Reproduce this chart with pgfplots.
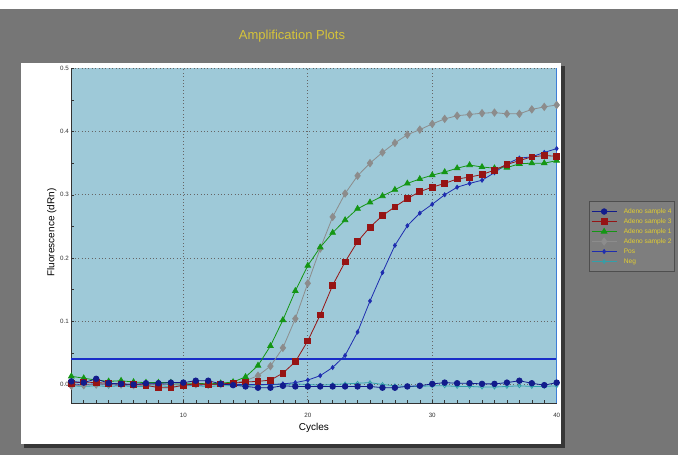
\documentclass[border=0pt]{standalone}
\usepackage{pgfplots}
\pgfplotsset{compat=1.18}
\usepackage{fontspec}
\setmainfont{Liberation Sans}
\definecolor{bggray}{RGB}{118,118,118}
\definecolor{shadowgray}{RGB}{55,55,55}
\definecolor{plotbg}{RGB}{158,201,216}
\definecolor{titleyellow}{RGB}{214,196,58}
\definecolor{legyellow}{RGB}{226,206,48}
\definecolor{leggray}{RGB}{126,126,126}
\definecolor{legborder}{RGB}{78,78,78}
\definecolor{cnavy}{RGB}{18,28,140}
\definecolor{cred}{RGB}{150,20,20}
\definecolor{cgreen}{RGB}{20,150,20}
\definecolor{cgray}{RGB}{140,140,140}
\definecolor{cpos}{RGB}{30,45,175}
\definecolor{cneg}{RGB}{50,160,170}
\definecolor{thrblue}{RGB}{25,45,200}
\definecolor{curblue}{RGB}{60,125,215}
\begin{document}
\begin{tikzpicture}[x=1pt,y=1pt]
\fill[white] (0,0) rectangle (678,455);
\fill[bggray] (0,0) rectangle (678,445.5);
\fill[shadowgray] (24,7) rectangle (564.5,389);
\fill[white] (21,11) rectangle (561,392);
\node[text=titleyellow, font=\fontsize{13}{15}\selectfont] at (292,419) {Amplification Plots};
\begin{axis}[
  at={(71.3pt,51.5pt)}, anchor=south west,
  scale only axis, width=485.4pt, height=335.2pt,
  xmin=1, xmax=40, ymin=-0.03, ymax=0.5,
  clip=false,
  axis background/.style={fill=plotbg},
  axis x line*=bottom, axis y line*=left,
  axis line style={black!80, line width=0.6pt, -},
  tick align=inside,
  xtick={10,20,30,40}, minor xtick={1,...,40},
  ytick={0,0.1,0.2,0.3,0.4,0.5}, minor ytick={0.05,0.15,0.25,0.35,0.45},
  scaled y ticks=false,
  yticklabel style={/pgf/number format/fixed, /pgf/number format/fixed zerofill, /pgf/number format/precision=1, anchor=east, inner sep=0pt, xshift=-2.3pt},
  xticklabel style={anchor=center, inner sep=0pt, yshift=-11.5pt},
  /pgf/number format/assume math mode=true,
  ticklabel style={font=\fontsize{6.2}{7}\selectfont, text=black!80},
  major tick length=3pt, minor tick length=3pt,
  tick style={black!80, line width=0.5pt},
  grid=major,
  major grid style={black!60, line width=0.6pt, dash pattern=on 0.8pt off 2.6pt},
  label style={font=\fontsize{6.8}{8}\selectfont, text=black!85},
  xlabel={Cycles}, ylabel={Fluorescence (dRn)},
  every axis x label/.style={at={(rel axis cs:0.5,-0.072)}, anchor=center},
  every axis y label/.style={at={(rel axis cs:-0.040,0.51)}, rotate=90, anchor=center},
  legend style={at={(rel axis cs:1.066,0.604)}, anchor=north west, fill=leggray, draw=legborder, line width=1pt, text=legyellow, font=\fontsize{6.6}{8}\selectfont, inner xsep=2pt, inner ysep=6pt, row sep=2pt, nodes={inner sep=0.8pt, text height=5pt, text depth=1.4pt}, cells={anchor=west}, /tikz/every odd column/.append style={column sep=6pt}},
  legend image code/.code={\draw[mark repeat=2,mark phase=2,#1] plot coordinates {(0pt,0pt) (12.5pt,0pt) (25pt,0pt)};},
  reverse legend,
]
\addplot[forget plot, draw=thrblue, line width=2pt] coordinates {(1,0.041) (40,0.041)};
% Neg
\addplot[color=cneg, line width=0.8pt, mark=diamond, mark size=2pt, mark options={solid, line width=0.7pt}] table {
1 -0.002
2 -0.003
3 -0.002
4 -0.003
5 -0.002
6 -0.003
7 -0.003
8 -0.002
9 -0.003
10 -0.002
11 -0.002
12 -0.003
13 -0.002
14 -0.002
15 -0.001
16 -0.001
17 0.000
18 0.000
19 0.001
20 0.000
21 -0.001
22 0.000
23 0.001
24 0.002
25 0.003
26 0.000
27 -0.002
28 -0.003
29 -0.003
30 -0.002
31 -0.002
32 -0.003
33 -0.003
34 -0.004
35 -0.004
36 -0.003
37 -0.002
38 -0.003
39 -0.003
40 -0.002
};
\addlegendentry{Neg}
% Pos
\addplot[color=cpos, line width=0.8pt, mark=diamond*, mark size=2pt, mark options={solid}] table {
1 -0.001
2 0.000
3 0.001
4 0.000
5 -0.001
6 0.000
7 0.000
8 0.001
9 0.000
10 0.000
11 -0.001
12 0.000
13 0.000
14 0.000
15 0.000
16 0.000
17 0.000
18 0.001
19 0.003
20 0.007
21 0.014
22 0.027
23 0.046
24 0.083
25 0.132
26 0.177
27 0.220
28 0.251
29 0.271
30 0.285
31 0.300
32 0.312
33 0.318
34 0.323
35 0.335
36 0.349
37 0.358
38 0.360
39 0.367
40 0.373
};
\addlegendentry{Pos}
% Adeno sample 2
\addplot[color=cgray, line width=0.8pt, mark=diamond*, mark size=3.6pt, mark options={solid}] table {
1 -0.002
2 -0.001
3 0.000
4 0.001
5 0.000
6 -0.001
7 0.000
8 0.001
9 0.000
10 0.000
11 0.001
12 0.000
13 0.001
14 0.002
15 0.006
16 0.014
17 0.029
18 0.058
19 0.104
20 0.160
21 0.215
22 0.265
23 0.302
24 0.330
25 0.350
26 0.367
27 0.382
28 0.395
29 0.403
30 0.412
31 0.420
32 0.425
33 0.427
34 0.429
35 0.430
36 0.428
37 0.428
38 0.435
39 0.439
40 0.442
};
\addlegendentry{Adeno sample 2}
% Adeno sample 1
\addplot[color=cgreen, line width=0.8pt, mark=triangle*, mark size=3.2pt, mark options={solid}] table {
1 0.013
2 0.010
3 0.007
4 0.005
5 0.006
6 0.004
7 0.003
8 0.003
9 0.003
10 0.002
11 0.002
12 0.001
13 0.002
14 0.004
15 0.012
16 0.030
17 0.061
18 0.102
19 0.148
20 0.188
21 0.217
22 0.240
23 0.260
24 0.278
25 0.288
26 0.298
27 0.308
28 0.318
29 0.325
30 0.331
31 0.336
32 0.342
33 0.347
34 0.344
35 0.342
36 0.343
37 0.349
38 0.350
39 0.350
40 0.354
};
\addlegendentry{Adeno sample 1}
% Adeno sample 3
\addplot[color=cred, line width=0.8pt, mark=square*, mark size=2.9pt, mark options={solid}] table {
1 0.002
2 0.004
3 0.003
4 0.002
5 0.001
6 0.000
7 -0.001
8 -0.005
9 -0.005
10 -0.001
11 0.001
12 0.000
13 0.001
14 0.002
15 0.004
16 0.005
17 0.007
18 0.018
19 0.036
20 0.069
21 0.110
22 0.157
23 0.194
24 0.226
25 0.249
26 0.267
27 0.281
28 0.294
29 0.305
30 0.312
31 0.318
32 0.325
33 0.328
34 0.332
35 0.339
36 0.348
37 0.354
38 0.360
39 0.362
40 0.361
};
\addlegendentry{Adeno sample 3}
% Adeno sample 4
\addplot[color=cnavy, line width=0.8pt, mark=*, mark size=2.8pt, mark options={solid}] table {
1 0.005
2 0.003
3 0.009
4 0.002
5 0.001
6 0.000
7 0.002
8 0.002
9 0.003
10 0.003
11 0.006
12 0.006
13 0.001
14 -0.001
15 -0.003
16 -0.005
17 -0.005
18 -0.002
19 -0.003
20 -0.003
21 -0.003
22 -0.003
23 -0.003
24 -0.003
25 -0.003
26 -0.005
27 -0.005
28 -0.003
29 -0.002
30 0.001
31 0.003
32 0.002
33 0.002
34 0.001
35 0.001
36 0.003
37 0.006
38 0.002
39 -0.001
40 0.003
};
\addlegendentry{Adeno sample 4}
\addplot[forget plot, draw=curblue, line width=1pt] coordinates {(40,-0.03) (40,0.5)};
\end{axis}
\pgfresetboundingbox
\useasboundingbox (0,0) rectangle (678,455);
\end{tikzpicture}
\end{document}
